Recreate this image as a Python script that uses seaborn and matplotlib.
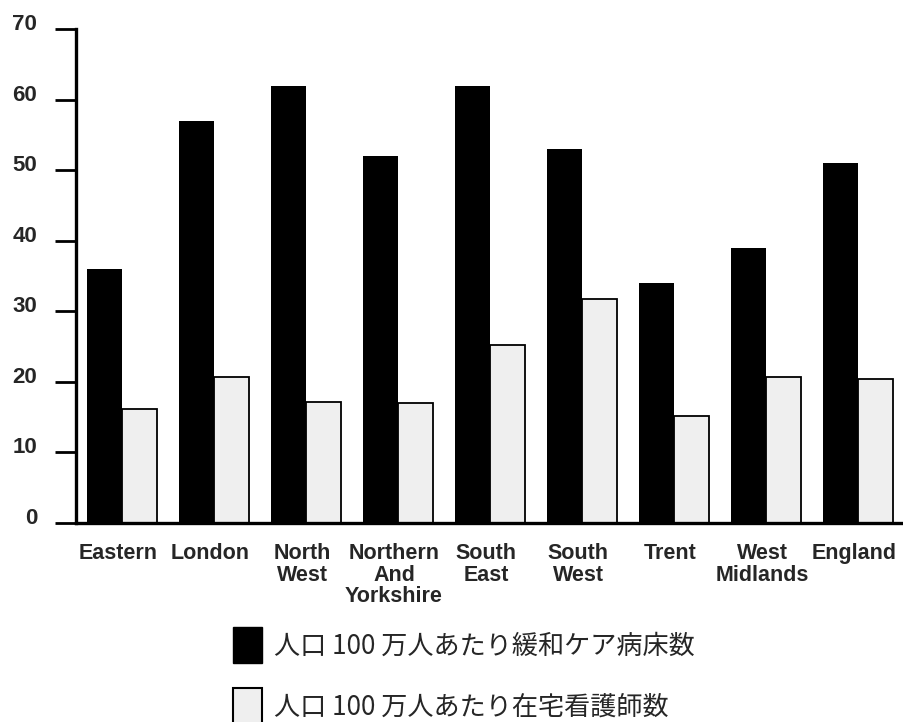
import matplotlib
matplotlib.use("Agg")
import matplotlib.pyplot as plt
import matplotlib.transforms as mtransforms
from matplotlib.patches import Patch
import seaborn as sns
import pandas as pd

regions = ["Eastern", "London", "North\nWest", "Northern\nAnd\nYorkshire",
           "South\nEast", "South\nWest", "Trent", "West\nMidlands", "England"]
beds_per_million = [36, 57, 62, 52, 62, 53, 34, 39, 51]
nurses_per_million = [16.2, 20.6, 17.1, 17.0, 25.2, 31.7, 15.1, 20.7, 20.4]
series_names = ["人口 100 万人あたり緩和ケア病床数", "人口 100 万人あたり在宅看護師数"]
y_ticks = [0, 10, 20, 30, 40, 50, 60, 70]

df = pd.DataFrame({
    "region": regions * 2,
    "value": beds_per_million + nurses_per_million,
    "series": [series_names[0]] * len(regions) + [series_names[1]] * len(regions),
})

sns.set_style("white")
plt.rcParams["font.family"] = ["Liberation Sans", "DejaVu Sans"]

fig = plt.figure(figsize=(9.04, 7.22), dpi=100)
ax = fig.add_axes([76 / 904, 1 - 522.7 / 722, 828 / 904, (522.7 - 29.3) / 722])

bar_colors = ["#000000", "#efefef"]
sns.barplot(data=df, x="region", y="value", hue="series", order=regions,
            hue_order=series_names, palette=bar_colors, width=0.76,
            saturation=1, ax=ax, legend=False)

# outline the light bars only
for patch in ax.patches:
    fc = patch.get_facecolor()
    if fc[0] > 0.5:
        patch.set_edgecolor("black")
        patch.set_linewidth(1.3)
    else:
        patch.set_edgecolor("none")

ax.set_xlim(-0.5, 8.5)
ax.set_ylim(0, 70)
ax.set_yticks(y_ticks)
ax.set_yticklabels([str(t) for t in y_ticks], fontsize=16, fontweight="bold")
ax.set_xlabel("")
ax.set_ylabel("")

ax.set_xticks(range(len(regions)))
ax.set_xticklabels(regions, fontsize=15.5, fontweight="bold", linespacing=1.05)
ax.set_xticks([i + 0.5 for i in range(len(regions) - 1)], minor=True)
ax.tick_params(axis="x", which="major", length=0, pad=14.5)
ax.tick_params(axis="x", which="minor", direction="in", length=12, width=2, color="black")
ax.tick_params(axis="y", which="major", direction="out", length=15, width=2,
               color="black", pad=13, left=True)

for side in ["top", "right"]:
    ax.spines[side].set_visible(False)
for side in ["left", "bottom"]:
    ax.spines[side].set_linewidth(2.4)
    ax.spines[side].set_color("black")

# nudge tick labels
dx = mtransforms.ScaledTranslation(-4 / 100, 0, fig.dpi_scale_trans)
for lbl in ax.get_xticklabels():
    lbl.set_transform(lbl.get_transform() + dx)
dy = mtransforms.ScaledTranslation(0, 7 / 100, fig.dpi_scale_trans)
for lbl in ax.get_yticklabels():
    lbl.set_transform(lbl.get_transform() + dy)

handles = [
    Patch(facecolor="#000000", edgecolor="#000000", label=series_names[0]),
    Patch(facecolor="#efefef", edgecolor="#000000", linewidth=1.5, label=series_names[1]),
]
fig.legend(handles=handles, loc="upper left", bbox_to_anchor=(220 / 904, 1 - 614 / 722),
           frameon=False, handlelength=1.1, handleheight=1.75, handletextpad=0.45,
           labelspacing=0.95, borderpad=0,
           prop={"family": ["Noto Sans CJK JP", "DejaVu Sans"], "size": 18.8})

fig.savefig("out.png", dpi=100)
